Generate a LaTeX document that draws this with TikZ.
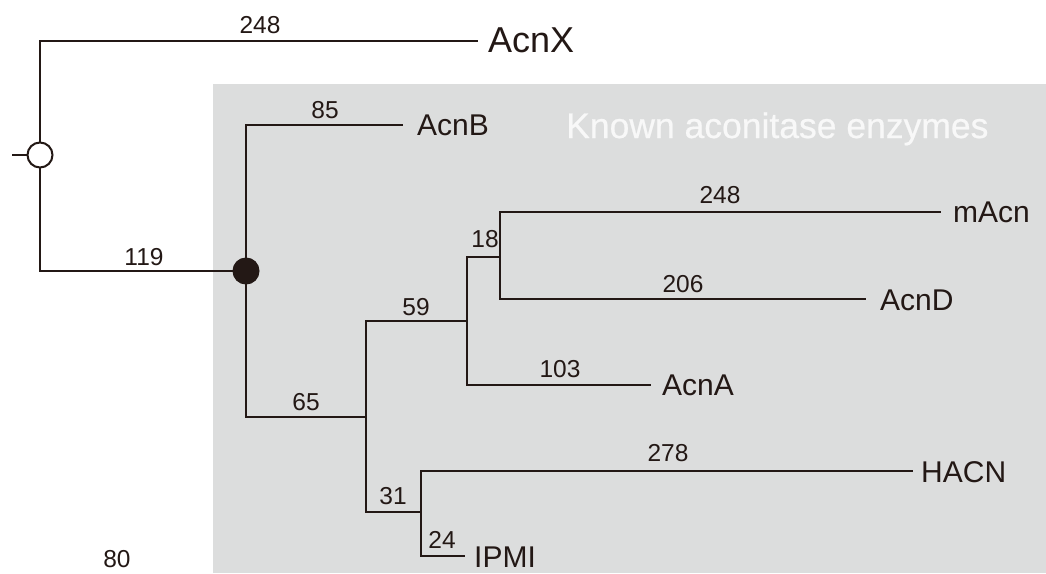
\documentclass[tikz,border=0pt]{standalone}
\usepackage{fontspec}
\setmainfont{Liberation Sans}
\newfontfamily\titlefont[FakeBold=0.6]{Liberation Sans}
\definecolor{lc}{HTML}{231815}
\definecolor{greybg}{HTML}{DCDDDD}
\definecolor{titlec}{HTML}{F8F8F8}
\begin{document}
\begin{tikzpicture}[x=1pt,y=-1pt,
  br/.style={draw=lc, line width=2pt},
  num/.style={font=\fontsize{24.5}{28}\selectfont, text=lc, inner sep=0pt, anchor=base},
  leaf/.style={font=\fontsize{30}{34}\selectfont, text=lc, inner sep=0pt, anchor=base west},
  bigleaf/.style={font=\fontsize{36}{40}\selectfont, text=lc, inner sep=0pt, anchor=base west},
  opencirc/.style={circle, draw=lc, fill=white, line width=2pt, minimum size=25pt, inner sep=0pt},
  fullcirc/.style={circle, draw=lc, fill=lc, line width=1pt, minimum size=26pt, inner sep=0pt}]
\useasboundingbox (0,0) rectangle (1046,573);
\fill[greybg] (213,84) rectangle (1046,573);
\node[font=\titlefont\fontsize{35.5}{40}\selectfont, text=titlec, inner sep=0pt, anchor=base west] (title) at (566,138) {Known aconitase enzymes};
% tree points
\coordinate (root) at (12,155);
\coordinate (c0) at (40,155);
\coordinate (c1) at (246,271);
\coordinate (c2) at (366,417);
\coordinate (c3) at (467,321);
\coordinate (c4) at (500,257);
\coordinate (c5) at (421,512);
\coordinate (eX) at (478,41);
\coordinate (eB) at (403,125);
\coordinate (em) at (941,212);
\coordinate (eD) at (866,299);
\coordinate (eA) at (651,385);
\coordinate (eH) at (913,471);
\coordinate (eI) at (465,556);
% branches
\draw[br] (root) -- (c0);
\draw[br] (c0) |- (eX);
\draw[br] (c0) |- (c1);
\draw[br] (c1) |- (eB);
\draw[br] (c1) |- (c2);
\draw[br] (c2) |- (c3);
\draw[br] (c2) |- (c5);
\draw[br] (c3) |- (c4);
\draw[br] (c3) |- (eA);
\draw[br] (c4) |- (em);
\draw[br] (c4) |- (eD);
\draw[br] (c5) |- (eH);
\draw[br] (c5) |- (eI);
% circles
\node[opencirc] (n0) at (c0) {};
\node[fullcirc] (n1) at (c1) {};
% leaves
\node[bigleaf] (AcnX) at (488,52) {AcnX};
\node[leaf] (AcnB) at (417,135) {AcnB};
\node[leaf] (mAcn) at (953,222) {mAcn};
\node[leaf] (AcnD) at (880,310) {AcnD};
\node[leaf] (AcnA) at (662,395) {AcnA};
\node[leaf] (HACN) at (921,482) {HACN};
\node[leaf] (IPMI) at (474,567) {IPMI};
% branch lengths
\node[num] (lX) at (260,33) {248};
\node[num] (lB) at (325,118) {85};
\node[num] (l119) at (144,265) {119};
\node[num] (l18) at (485,247) {18};
\node[num] (l59) at (416,315) {59};
\node[num] (l65) at (306,410) {65};
\node[num] (l31) at (393,504) {31};
\node[num] (l24) at (442,548) {24};
\node[num] (lm) at (720,203) {248};
\node[num] (lD) at (683,292) {206};
\node[num] (lA) at (560,377) {103};
\node[num] (lH) at (668,461) {278};
\node[num] (l80) at (117,567) {80};
\end{tikzpicture}
\end{document}
